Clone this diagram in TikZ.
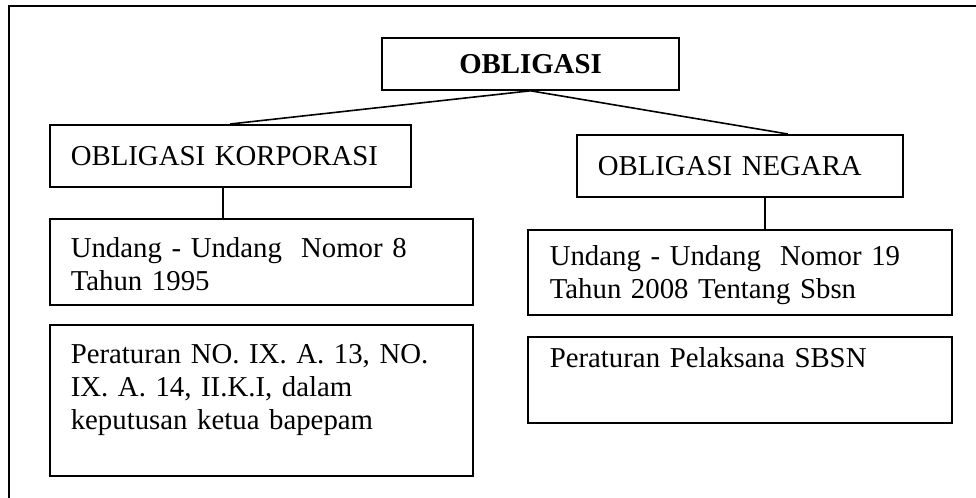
\documentclass[tikz,border=0pt]{standalone}
\usepackage{fontspec}
\setmainfont{Liberation Serif}
\usetikzlibrary{positioning}
\newcommand\boxfont{\fontsize{14.4}{16.5}\selectfont\frenchspacing}
\begin{document}
\begin{tikzpicture}[x=0.5pt,y=-0.5pt,line width=0.8pt,
  every node/.style={font=\boxfont},
  box/.style={draw,rectangle,inner xsep=10.5pt,inner ysep=0pt,align=left,anchor=north west}]
\useasboundingbox (0,0) rectangle (976,498);
\clip (0,0) rectangle (976,498);
\draw (9,520) |- (990,6);
% top
\node[box,anchor=center,align=center,inner xsep=0pt,minimum width=148.5pt,minimum height=26pt,font=\boxfont\bfseries] (obligasi) at (530.5,64) {OBLIGASI};
% left column
\node[box,text width=159.5pt,minimum height=31pt] (korporasi) at (49,124) {OBLIGASI KORPORASI};
\node[box,text width=190.5pt,text height=19.5pt,text depth=23.5pt] (uu8) at (49,218) {Undang - Undang~ Nomor 8\\Tahun 1995};
\node[box,text width=190.5pt,text height=19.5pt,text depth=56pt] (per8) at (49,324) {Peraturan NO. IX. A. 13, NO.\\IX. A. 14, II.K.I, dalam\\keputusan ketua bapepam};
% right column
\node[box,text width=142pt,minimum height=31pt] (negara) at (576,134) {OBLIGASI NEGARA};
\node[box,text width=190pt,inner xsep=11pt,text height=18pt,text depth=24.5pt] (uu19) at (527,229) {Undang - Undang~ Nomor 19\\Tahun 2008 Tentang Sbsn};
\node[box,text width=190pt,inner xsep=11pt,text height=15.5pt,text depth=27.5pt] (sbsn) at (527,336) {Peraturan Pelaksana SBSN};
% connectors
\coordinate (kstem) at ([xshift=-3.75pt]korporasi.south);
\coordinate (nstem) at ([xshift=12.5pt]negara.south);
\draw (obligasi.south) -- (korporasi.north);
\draw (obligasi.south) -- ([xshift=24pt]negara.north);
\draw (kstem) -- (kstem |- uu8.north);
\draw (nstem) -- (nstem |- uu19.north);
\end{tikzpicture}
\end{document}
